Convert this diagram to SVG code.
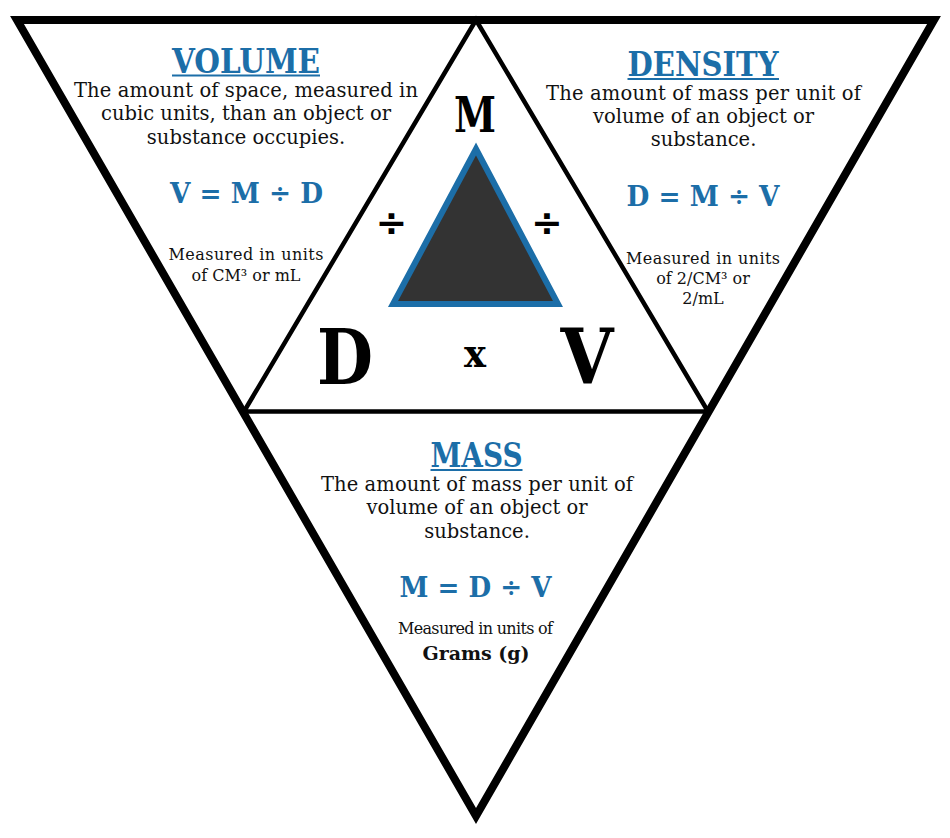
<svg xmlns="http://www.w3.org/2000/svg" width="950" height="838" viewBox="0 0 950 838">
<style>
.title{font-family:"DejaVu Serif","Liberation Serif",serif;font-weight:bold;font-size:33px;fill:#1c6ea8;text-anchor:middle}
.body{font-family:"DejaVu Serif","Liberation Serif",serif;font-size:19.5px;fill:#111;text-anchor:middle}
.formula{font-family:"DejaVu Serif","Liberation Serif",serif;font-weight:bold;font-size:28px;fill:#1c6ea8;text-anchor:middle}
.small{font-family:"DejaVu Serif","Liberation Serif",serif;font-size:16px;fill:#111;text-anchor:middle}
.big{font-family:"DejaVu Serif","Liberation Serif",serif;font-weight:bold;fill:#000;text-anchor:middle}
.op{font-family:"DejaVu Sans","Liberation Sans",sans-serif;font-weight:bold;font-size:38px;fill:#000;text-anchor:middle}
.ul{stroke:#1c6ea8;stroke-width:2}
</style>
<rect width="950" height="838" fill="#fff"/>
<g id="frame" fill="none" stroke="#000" stroke-linejoin="miter">
  <path d="M244,411.5 L476,20 L708,411.5 M244,411.5 H708" stroke-width="4.5"/>
  <polygon points="17,20 934,20 476,816" stroke-width="8"/>
</g>
<g id="volume">
  <text class="title" x="246" y="72.5" textLength="148" lengthAdjust="spacingAndGlyphs">VOLUME</text>
  <line class="ul" x1="172" y1="75.5" x2="320" y2="75.5"/>
  <text class="body" x="246" y="96.5" textLength="344">The amount of space, measured in</text>
  <text class="body" x="246" y="120">cubic units, than an object or</text>
  <text class="body" x="246" y="143.5">substance occupies.</text>
  <text class="formula" x="246.5" y="202.5" textLength="153" lengthAdjust="spacingAndGlyphs">V = M ÷ D</text>
  <text class="small" x="246" y="260" textLength="155">Measured in units</text>
  <text class="small" x="246" y="280.5">of CM³ or mL</text>
</g>
<g id="density">
  <text class="title" x="703" y="76" textLength="151" lengthAdjust="spacingAndGlyphs">DENSITY</text>
  <line class="ul" x1="627.5" y1="79" x2="779" y2="79"/>
  <text class="body" x="703.5" y="99.5" textLength="315">The amount of mass per unit of</text>
  <text class="body" x="703.5" y="123">volume of an object or</text>
  <text class="body" x="703.5" y="146">substance.</text>
  <text class="formula" x="703" y="205.5" textLength="153" lengthAdjust="spacingAndGlyphs">D = M ÷ V</text>
  <text class="small" x="703" y="263.5" textLength="154">Measured in units</text>
  <text class="small" x="703" y="284">of 2/CM³ or</text>
  <text class="small" x="703" y="304">2/mL</text>
</g>
<g id="mass">
  <text class="title" x="476.5" y="466.5" textLength="92" lengthAdjust="spacingAndGlyphs">MASS</text>
  <line class="ul" x1="430.5" y1="470" x2="522.5" y2="470"/>
  <text class="body" x="477" y="490.5" textLength="312">The amount of mass per unit of</text>
  <text class="body" x="477" y="514">volume of an object or</text>
  <text class="body" x="477" y="538">substance.</text>
  <text class="formula" x="475.5" y="597" textLength="152" lengthAdjust="spacingAndGlyphs">M = D ÷ V</text>
  <text class="small" x="475.5" y="634" textLength="155">Measured in units of</text>
  <text class="small" x="476" y="660" style="font-weight:bold;font-size:19px" textLength="107">Grams (g)</text>
</g>
<g id="center">
  <polygon points="476,149 393,304 558,304" fill="#333" stroke="#1c6ea8" stroke-width="6" stroke-linejoin="miter"/>
  <text class="big" x="475" y="131.5" font-size="48" textLength="42" lengthAdjust="spacingAndGlyphs">M</text>
  <text class="big" x="345" y="384" font-size="77" textLength="56" lengthAdjust="spacingAndGlyphs">D</text>
  <text class="big" x="587" y="384" font-size="77" textLength="53" lengthAdjust="spacingAndGlyphs">V</text>
  <text class="big" x="475" y="366.5" font-size="40" textLength="22" lengthAdjust="spacingAndGlyphs">x</text>
  <text class="op" x="391.5" y="236">÷</text>
  <text class="op" x="547" y="236">÷</text>
</g>
</svg>
